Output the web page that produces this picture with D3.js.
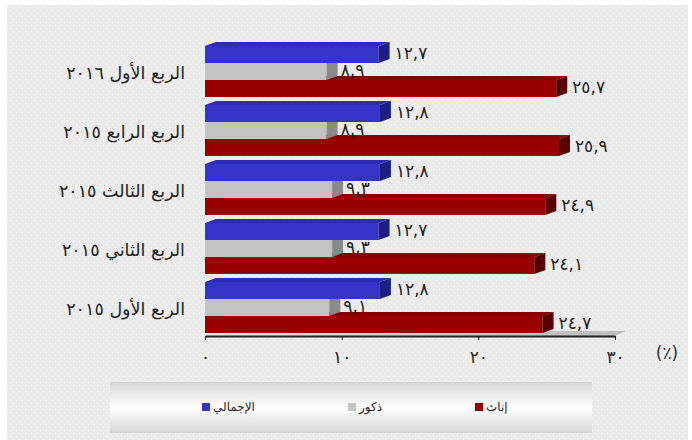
<!DOCTYPE html>
<html>
<head>
<meta charset="utf-8">
<script src="https://cdn.jsdelivr.net/npm/d3@7"></script>
<style>
  html, body { margin: 0; padding: 0; background: #fff; }
  svg { display: block; }
</style>
</head>
<body>
<svg width="692" height="440"></svg>
<script>
const categories = ["الربع الأول ٢٠١٦", "الربع الرابع ٢٠١٥", "الربع الثالث ٢٠١٥", "الربع الثاني ٢٠١٥", "الربع الأول ٢٠١٥"];
const total = [12.7, 12.8, 12.8, 12.7, 12.8];
const males = [8.9, 8.9, 9.3, 9.3, 9.1];
const females = [25.7, 25.9, 24.9, 24.1, 24.7];
const seriesNames = ["الإجمالي", "ذكور", "إناث"];
const xTicks = [0, 10, 20, 30];

const colors = {
    "الإجمالي": {front: "#3434c9", top: "#2c2cb4", side: "#1d1d86"},
    "ذكور": {front: "#c3c3c3", top: "#b3b3b3", side: "#8a8a8a"},
    "إناث": {front: "#990000", top: "#860000", side: "#560000"}
};

// latin digits -> arabic-indic, decimal comma
function arabic(v) {
    return String(v).replace(".", ",").replace(/[0-9]/g, d => "٠١٢٣٤٥٦٧٨٩"[+d]);
}

function draw() {
    let svg = d3.select("svg");
    const arFont = "'DejaVu Sans', sans-serif";

    // dotted background
    let defs = svg.append("defs");
    let pat = defs.append("pattern")
        .attr("id", "dots")
        .attr("width", 6).attr("height", 6)
        .attr("patternUnits", "userSpaceOnUse");
    pat.append("rect").attr("width", 6).attr("height", 6).attr("fill", "#ebebeb");
    pat.append("rect").attr("x", 1).attr("y", 1).attr("width", 1).attr("height", 1).attr("fill", "#f8f8f8");
    pat.append("rect").attr("x", 4).attr("y", 4).attr("width", 1).attr("height", 1).attr("fill", "#f8f8f8");

    let lg = defs.append("linearGradient").attr("id", "legendGrad")
        .attr("x1", 0).attr("y1", 0).attr("x2", 0).attr("y2", 1);
    lg.append("stop").attr("offset", "0%").attr("stop-color", "#d6d6d6");
    lg.append("stop").attr("offset", "50%").attr("stop-color", "#ffffff");
    lg.append("stop").attr("offset", "100%").attr("stop-color", "#d6d6d6");

    let fg = defs.append("linearGradient").attr("id", "floorGrad")
        .attr("x1", 0).attr("y1", 0).attr("x2", 1).attr("y2", 0);
    fg.append("stop").attr("offset", "0%").attr("stop-color", "#e6e6e6");
    fg.append("stop").attr("offset", "100%").attr("stop-color", "#bcbcbc");

    svg.append("rect")
        .attr("x", 7).attr("y", 5)
        .attr("width", 681).attr("height", 435)
        .attr("fill", "url(#dots)");

    let x = d3.scaleLinear().domain([0, 30]).range([205, 615]);
    let y0 = d3.scaleBand().domain(categories).range([38, 333]);
    let y1 = d3.scaleBand().domain(seriesNames).range([8, y0.bandwidth()]);

    const dx = 11, dy = 4;
    const axisY = 336;

    // floor
    svg.append("polygon")
        .attr("points", [[x(0), axisY], [x(30), axisY], [x(30) + dx, axisY - dy - 1], [x(0) + dx, axisY - dy - 1]].join(" "))
        .attr("fill", "url(#floorGrad)");

    let rows = categories.map((c, i) => ({
        cat: c,
        bars: [
            {name: "إناث", value: females[i]},
            {name: "ذكور", value: males[i]},
            {name: "الإجمالي", value: total[i]}
        ]
    }));

    let group = svg.selectAll(".group")
        .data(rows)
        .enter()
        .append("g")
        .attr("class", "group")
        .attr("transform", d => `translate(0,${y0(d.cat)})`);

    let bar = group.selectAll(".bar")
        .data(d => d.bars)
        .enter()
        .append("g")
        .attr("class", "bar");

    bar.append("polygon")
        .attr("points", d => {
            let x0 = x(0), x1 = x(d.value), yy = y1(d.name);
            return [[x0, yy], [x0 + dx, yy - dy], [x1 + dx, yy - dy], [x1, yy]].join(" ");
        })
        .attr("fill", d => colors[d.name].top);

    bar.append("rect")
        .attr("x", x(0))
        .attr("y", d => y1(d.name))
        .attr("width", d => x(d.value) - x(0))
        .attr("height", y1.bandwidth())
        .attr("fill", d => colors[d.name].front);

    bar.append("polygon")
        .attr("points", d => {
            let x1 = x(d.value), yy = y1(d.name), h = y1.bandwidth();
            return [[x1, yy], [x1 + dx, yy - dy], [x1 + dx, yy + h - dy], [x1, yy + h]].join(" ");
        })
        .attr("fill", d => colors[d.name].side);

    bar.append("text")
        .attr("x", d => x(d.value) + dx + (d.name == "ذكور" ? 3 : 5))
        .attr("y", d => y1(d.name) + y1.bandwidth() / 2 - 2)
        .attr("dominant-baseline", "central")
        .style("font-family", arFont)
        .style("font-size", "17px")
        .attr("fill", "#222")
        .text(d => arabic(d.value));

    // category labels
    svg.selectAll(".cat")
        .data(categories)
        .enter()
        .append("text")
        .attr("class", "cat")
        .attr("x", 185)
        .attr("y", d => y0(d) + 35)
        .attr("text-anchor", "end")
        .attr("dominant-baseline", "central")
        .style("font-family", arFont)
        .style("font-size", "17.5px")
        .attr("fill", "#222")
        .text(d => d);

    // x axis
    let axis = svg.append("g")
        .attr("transform", `translate(0,${axisY})`)
        .call(d3.axisBottom(x)
            .tickValues(xTicks)
            .tickFormat(arabic)
            .tickSize(4)
            .tickSizeOuter(0)
            .tickPadding(11));
    axis.select(".domain").attr("stroke", "#222").attr("stroke-width", 2);
    axis.selectAll(".tick line").attr("stroke", "#222");
    axis.selectAll(".tick text")
        .style("font-family", arFont)
        .style("font-size", "17px")
        .attr("fill", "#222");

    svg.append("text")
        .attr("x", 667)
        .attr("y", 353)
        .attr("text-anchor", "middle")
        .attr("dominant-baseline", "central")
        .style("font-family", arFont)
        .style("font-size", "17px")
        .attr("fill", "#333")
        .text("(٪)");

    // legend
    svg.append("rect")
        .attr("x", 110).attr("y", 382)
        .attr("width", 482).attr("height", 51)
        .attr("fill", "url(#legendGrad)");

    const legendX = {"الإجمالي": 202, "ذكور": 348, "إناث": 475};
    let item = svg.selectAll(".legend")
        .data(seriesNames)
        .enter()
        .append("g")
        .attr("class", "legend")
        .attr("transform", d => `translate(${legendX[d]},403)`);
    item.append("rect")
        .attr("width", 8).attr("height", 8)
        .attr("fill", d => colors[d].front);
    item.append("text")
        .attr("x", 11)
        .attr("y", 4)
        .attr("dominant-baseline", "central")
        .style("font-family", arFont)
        .style("font-size", "12px")
        .attr("fill", "#222")
        .text(d => d);
}

draw();
</script>
</body>
</html>
